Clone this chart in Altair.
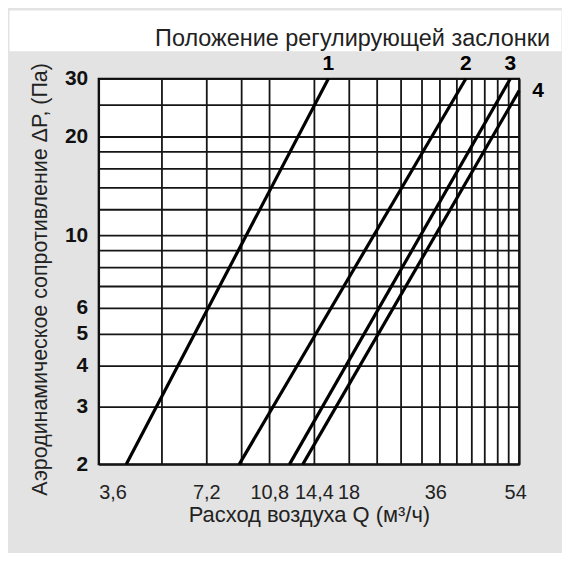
import altair as alt
import pandas as pd

# ---- data ----
series = ["1", "2", "3", "4"]
q_start = [4.3, 8.9, 12.3, 13.4]
dp_start = [2.0, 2.0, 2.0, 2.0]
q_end = [15.8, 38.3, 51.0, 54.0]
dp_end = [30.0, 30.0, 30.0, 27.6]

x_grid = [3.6, 5.4, 7.2, 9.0, 10.8, 14.4, 18.0, 21.6, 25.2, 28.8, 32.4,
          36.0, 39.6, 43.2, 46.8, 50.4, 54.0]
y_grid = [2, 3, 4, 5, 6, 7, 8, 9, 10, 12, 14, 16, 18, 20, 25, 30]
x_labels = [3.6, 7.2, 10.8, 14.4, 18, 36, 54]
y_labels = [2, 3, 4, 5, 6, 10, 20, 30]

title_text = "Положение регулирующей заслонки"
x_title = "Расход воздуха Q (м³/ч)"
y_title = "Аэродинамическое сопротивление ΔP, (Па)"

rows = []
for s, qa, pa, qb, pb in zip(series, q_start, dp_start, q_end, dp_end):
    rows.append({"series": s, "Q": qa, "dP": pa, "end": False})
    rows.append({"series": s, "Q": qb, "dP": pb, "end": True})
lines_df = pd.DataFrame(rows)

FONT = "Liberation Sans"
NARROW = "Liberation Sans Narrow, Arial Narrow, Liberation Sans"
GRID = "#151515"

xlab = ",".join(str(v) for v in x_labels)
ylab = ",".join(str(v) for v in y_labels)

xscale = alt.Scale(type="log", domain=[3.6, 54], nice=False, zero=False)
yscale = alt.Scale(type="log", domain=[2, 30], nice=False, zero=False)

x_axis = alt.Axis(
    values=x_grid, grid=True, gridColor=GRID, gridWidth=1.8, gridOpacity=1,
    ticks=False, tickSize=0, domain=False,
    labelExpr=f"indexof([{xlab}], datum.value) >= 0 ? replace(format(datum.value, '~g'), '.', ',') : ''",
    labelFont=NARROW, labelFontSize=20, labelColor="#222", labelPadding=18,
    labelOverlap=False, labelFlush=False,
    labelAlign={"expr": "datum.value == 3.6 ? 'left' : 'center'"},
    labelOffset={"expr": "datum.value == 36 ? -21 : (datum.value == 54 ? -4 : 0)"},
    title=x_title, titleFont=FONT, titleFontSize=22, titleFontWeight="normal",
    titleColor="#222", titlePadding=2,
)
y_axis = alt.Axis(
    values=y_grid, grid=True, gridColor=GRID, gridWidth=1.8, gridOpacity=1,
    ticks=False, tickSize=0, domain=False,
    labelExpr=f"indexof([{ylab}], datum.value) >= 0 ? format(datum.value, 'd') : ''",
    labelFont=FONT, labelFontWeight="bold", labelFontSize=21, labelColor="#111",
    labelPadding=11, labelOverlap=False,
    title=y_title, titleFont=FONT, titleFontSize=21.5, titleFontWeight="normal",
    titleColor="#222", titleX=-52, titleY=201, titleAngle=270,
    titleAlign="center", titleBaseline="alphabetic",
)

base = alt.Chart(lines_df).encode(
    x=alt.X("Q:Q", scale=xscale, axis=x_axis),
    y=alt.Y("dP:Q", scale=yscale, axis=y_axis),
)
lines = base.mark_line(color="black", strokeWidth=3.2).encode(detail="series:N")
labels_top = base.transform_filter("datum.end && datum.series != '4'").mark_text(
    font=FONT, fontWeight="bold", fontSize=21, color="black", dy=-15
).encode(text="series:N")
labels_right = base.transform_filter("datum.end && datum.series == '4'").mark_text(
    font=FONT, fontWeight="bold", fontSize=21, color="black", dx=19
).encode(text="series:N")

main = alt.layer(lines, labels_top, labels_right).properties(
    width=422, height=387,
    view=alt.ViewBackground(fill="white", stroke="black", strokeWidth=2),
)

spacer = alt.Chart(pd.DataFrame({"v": [0]})).mark_point(opacity=0).encode(
    x=alt.X("v:Q", axis=None), y=alt.Y("v:Q", axis=None)
).properties(width=18, height=387,
             view=alt.ViewBackground(fill="transparent", stroke="transparent"))

title_chart = alt.Chart(pd.DataFrame({"t": [title_text]})).mark_text(
    align="right", baseline="alphabetic", font=FONT, fontSize=23.5, color="#222"
).encode(text="t:N", x=alt.value(543), y=alt.value(36)).properties(
    width=554, height=41,
    view=alt.ViewBackground(fill="white", stroke="transparent"),
)

chart = alt.vconcat(
    title_chart,
    alt.hconcat(spacer, main, spacing=0),
    spacing=0,
).properties(
    background="#e3e3e3",
    padding={"left": 0, "top": 0, "right": 0, "bottom": 26},
).configure_view(stroke="transparent")

chart.save("out.html", embed_options={"renderer": "svg", "actions": False})
